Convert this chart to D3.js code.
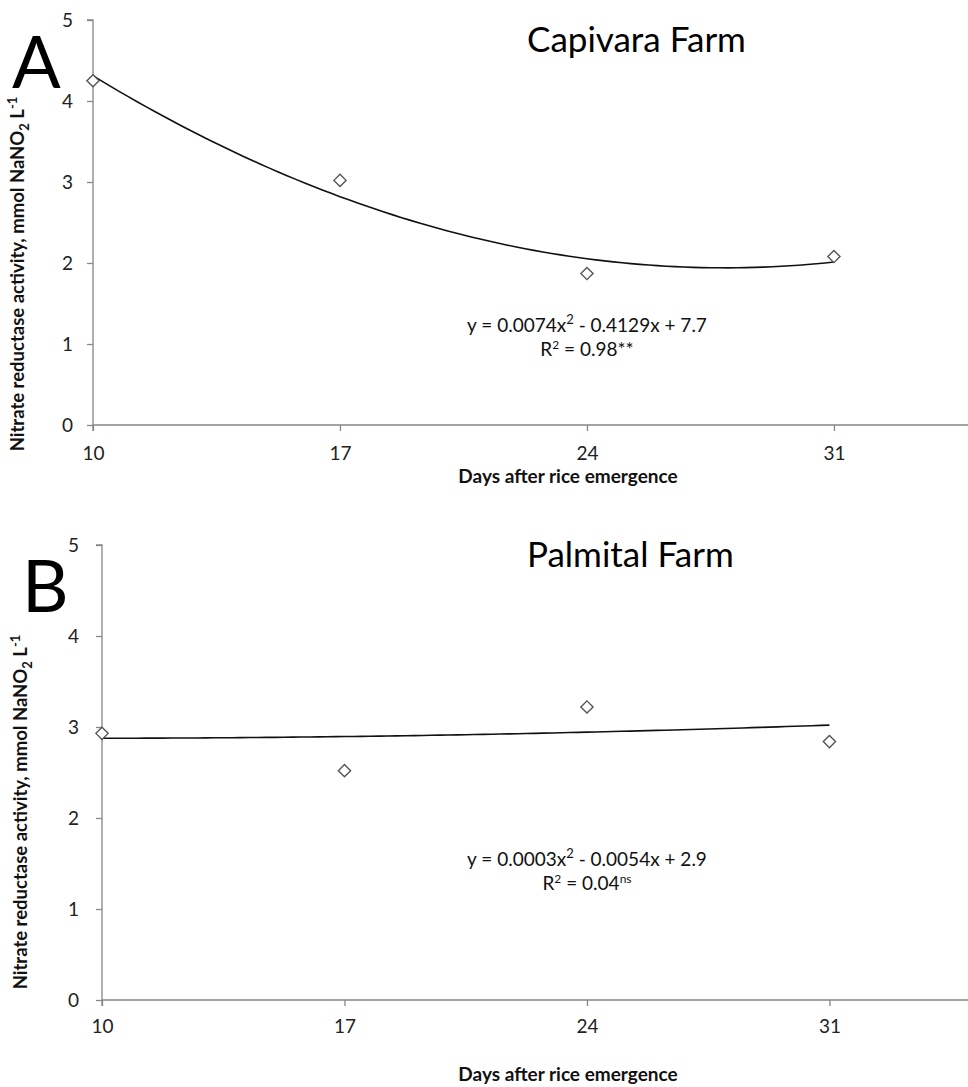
<!DOCTYPE html>
<html>
<head>
<meta charset="utf-8">
<script src="https://cdn.jsdelivr.net/npm/d3@7"></script>
<style>
  body { margin: 0; background: #fff; }
  text { font-family: Lato, "Open Sans", sans-serif; }
</style>
</head>
<body>
<div id="chart"></div>
<script>
const W = 968;
const H = 1087;

// data
const days = [10, 17, 24, 31];
const capivara = [4.25, 3.02, 1.87, 2.08];
const palmital = [2.93, 2.52, 3.22, 2.84];
const yTicks = [0, 1, 2, 3, 4, 5];

// trendline coefficients as printed on the chart (a*x^2 + b*x + c)
const capivaraFit = [0.0074, -0.4129, 7.7];
const palmitalFit = [0.0003, -0.0054, 2.9];

const panels = [
    { letter: "A", title: "Capivara Farm", values: capivara, fit: capivaraFit,
      eq: "0.0074x|2| - 0.4129x + 7.7", r2: "0.98**", r2sup: "",
      left: 93, top: 20, bottom: 425, xMax: 34.8, yPad: 14, xDy: 15,
      letterX: 12, letterY: 88, titleX: 527, titleY: 52,
      eqY: 332, ylabX: 24, ylabY: 274, xlabY: 483 },
    { letter: "B", title: "Palmital Farm", values: palmital, fit: palmitalFit,
      eq: "0.0003x|2| - 0.0054x + 2.9", r2: "0.04", r2sup: "ns",
      left: 102, top: 545, bottom: 1000, xMax: 35, yPad: 17, xDy: 13,
      letterX: 22, letterY: 612, titleX: 527, titleY: 567,
      eqY: 866, ylabX: 27, ylabY: 812, xlabY: 1081 }
];

const svg = d3.select("#chart")
    .append("svg")
    .attr("width", W)
    .attr("height", H);

const axisColor = "#868686";

function drawPanel(p) {
    const x = d3.scaleLinear().domain([10, p.xMax]).range([p.left, W]);
    const y = d3.scaleLinear().domain([0, 5]).range([p.bottom, p.top]);
    const g = svg.append("g");

    // y axis
    const ya = g.append("g")
        .attr("transform", `translate(${p.left},0)`)
        .call(d3.axisLeft(y).tickValues(yTicks).tickFormat(d3.format("d"))
            .tickSize(6).tickPadding(p.yPad));
    // x axis
    const xa = g.append("g")
        .attr("transform", `translate(0,${p.bottom})`)
        .call(d3.axisBottom(x).tickValues(days).tickSize(6).tickPadding(14));

    [ya, xa].forEach(a => {
        a.select(".domain").attr("stroke", axisColor).attr("stroke-width", 1.3);
        a.selectAll(".tick line").attr("stroke", axisColor).attr("stroke-width", 1.3);
        a.selectAll(".tick text")
            .attr("fill", "#222")
            .style("font-family", "Lato, sans-serif")
            .style("font-size", "19px");
    });
    ya.select(".domain").attr("d", `M-6,${p.top}H0V${p.bottom}`);
    xa.select(".domain").attr("d", `M${p.left},6V0H${W}`);
    xa.selectAll(".tick text").attr("dy", p.xDy);

    // trendline from the printed equation
    const [a, b, c] = p.fit;
    const xs = d3.range(days[0], days[days.length - 1] + 0.01, 0.25);
    g.append("path")
        .datum(xs)
        .attr("fill", "none")
        .attr("stroke", "#111")
        .attr("stroke-width", 1.6)
        .attr("d", d3.line().x(d => x(d)).y(d => y(a * d * d + b * d + c)));

    // diamond markers
    const sym = d3.symbol().type(d3.symbolDiamond2).size(95);
    g.selectAll("path.pt")
        .data(p.values)
        .join("path")
        .attr("class", "pt")
        .attr("transform", (d, i) => `translate(${x(days[i])},${y(d)})`)
        .attr("d", sym)
        .attr("fill", "#fff")
        .attr("stroke", "#555")
        .attr("stroke-width", 1.4);

    // panel letter and title
    g.append("text")
        .attr("x", p.letterX).attr("y", p.letterY)
        .style("font-size", "72px")
        .attr("fill", "#000")
        .text(p.letter);
    g.append("text")
        .attr("x", p.titleX).attr("y", p.titleY)
        .style("font-size", "35px")
        .attr("fill", "#000")
        .text(p.title);

    // equation
    const cx = 587;
    const parts = p.eq.split("|");
    const eq = g.append("text")
        .attr("x", cx).attr("y", p.eqY)
        .attr("text-anchor", "middle")
        .style("font-size", "19px")
        .attr("fill", "#111");
    eq.append("tspan").text("y = " + parts[0]);
    eq.append("tspan").attr("dy", -8).style("font-size", "13px").text(parts[1]);
    eq.append("tspan").attr("dy", 8).text(parts[2]);

    const r = g.append("text")
        .attr("x", cx).attr("y", p.eqY + 24)
        .attr("text-anchor", "middle")
        .style("font-size", "19px")
        .attr("fill", "#111");
    r.append("tspan").text("R");
    r.append("tspan").attr("dy", -7).style("font-size", "12px").text("2");
    r.append("tspan").attr("dy", 7).text(" = " + p.r2);
    if (p.r2sup) {
        r.append("tspan").attr("dy", -7).style("font-size", "12px").text(p.r2sup);
    }

    // y axis title
    const yl = g.append("text")
        .attr("transform", `translate(${p.ylabX},${p.ylabY}) rotate(-90)`)
        .attr("text-anchor", "middle")
        .style("font-size", "18.5px")
        .style("font-weight", "bold")
        .attr("fill", "#111");
    yl.append("tspan").text("Nitrate reductase activity, mmol NaNO");
    yl.append("tspan").attr("dy", 5).style("font-size", "13px").text("2");
    yl.append("tspan").attr("dy", -5).text(" L");
    yl.append("tspan").attr("dy", -7).style("font-size", "13px").text("-1");

    // x axis title
    g.append("text")
        .attr("x", 568).attr("y", p.xlabY)
        .attr("text-anchor", "middle")
        .style("font-size", "19px")
        .style("font-weight", "bold")
        .attr("fill", "#111")
        .text("Days after rice emergence");
}

panels.forEach(drawPanel);
</script>
</body>
</html>
